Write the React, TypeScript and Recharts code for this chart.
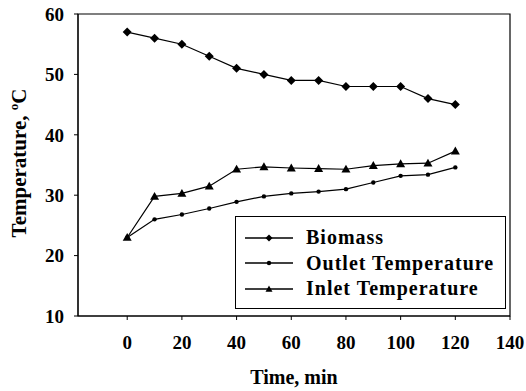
import React from "react";
import {
  LineChart,
  Line,
  XAxis,
  YAxis,
  ReferenceArea,
} from "recharts";

const times = [0, 10, 20, 30, 40, 50, 60, 70, 80, 90, 100, 110, 120];
const biomass = [57, 56, 55, 53, 51, 50, 49, 49, 48, 48, 48, 46, 45];
const outletTemp = [23, 26, 26.8, 27.8, 28.9, 29.8, 30.3, 30.6, 31, 32.1, 33.2, 33.4, 34.6];
const inletTemp = [23, 29.8, 30.3, 31.5, 34.3, 34.7, 34.5, 34.4, 34.3, 34.9, 35.2, 35.3, 37.3];
const xTicks = [0, 20, 40, 60, 80, 100, 120, 140];
const yTicks = [10, 20, 30, 40, 50, 60];

const data = times.map((t, i) => ({
  time: t,
  biomass: biomass[i],
  outlet: outletTemp[i],
  inlet: inletTemp[i],
}));

const FONT = "'Liberation Serif', 'DejaVu Serif', serif";

const Diamond = ({ cx, cy, s = 4.5 }: any) => (
  <polygon
    points={`${cx},${cy - s} ${cx + s},${cy} ${cx},${cy + s} ${cx - s},${cy}`}
    fill="#000"
  />
);
const Dot = ({ cx, cy }: any) => <circle cx={cx} cy={cy} r={2.2} fill="#000" />;
const Tri = ({ cx, cy, s = 4.5 }: any) => (
  <polygon
    points={`${cx},${cy - s} ${cx + s},${cy + s * 0.75} ${cx - s},${cy + s * 0.75}`}
    fill="#000"
  />
);

const series = [
  { key: "biomass", name: "Biomass", Shape: Diamond },
  { key: "outlet", name: "Outlet Temperature", Shape: Dot },
  { key: "inlet", name: "Inlet Temperature", Shape: Tri },
];

const LegendBox = () => (
  <div
    style={{
      position: "absolute",
      left: 235,
      top: 216,
      border: "1.5px solid #000",
      background: "#fff",
      width: 271,
      height: 93,
      boxSizing: "border-box",
      padding: "8px 0 0 9px",
      fontFamily: FONT,
      fontWeight: "bold",
      fontSize: 20,
      letterSpacing: 1,
    }}
  >
    {series.map((s) => (
      <div key={s.key} style={{ display: "flex", alignItems: "center", height: 25.5 }}>
        <svg width={48} height={12} style={{ marginRight: 13, flexShrink: 0 }}>
          <line x1={0} y1={6} x2={48} y2={6} stroke="#000" strokeWidth={1.3} />
          <s.Shape cx={24} cy={6} s={3.5} />
        </svg>
        <span style={{ whiteSpace: "nowrap" }}>{s.name}</span>
      </div>
    ))}
  </div>
);

const YLabel = () => (
  <text
    transform="translate(26, 163) rotate(-90)"
    textAnchor="middle"
    fontFamily={FONT}
    fontWeight="bold"
    fontSize={21}
    fill="#000"
  >
    Temperature,{" "}
    <tspan fontSize={13} dy={-8}>o</tspan>
    <tspan dy={8}>C</tspan>
  </text>
);

export default function App() {
  return (
    <div style={{ position: "absolute", left: 0, top: 0, background: "#fff" }}>
      <LineChart
        width={526}
        height={391}
        data={data}
        margin={{ top: 14, right: 16, left: 0, bottom: 45 }}
      >
        <XAxis
          dataKey="time"
          type="number"
          domain={[-18, 140]}
          ticks={xTicks}
          allowDataOverflow
          stroke="#000"
          tickLine={{ stroke: "#000" }}
          tickSize={4}
          tick={{ fill: "#000", fontFamily: FONT, fontWeight: "bold", fontSize: 19 }}
          tickMargin={16}
          label={{
            value: "Time, min",
            position: "insideBottom",
            offset: -38,
            fill: "#000",
            fontFamily: FONT,
            fontWeight: "bold",
            fontSize: 20,
          }}
        />
        <YAxis
          type="number"
          domain={[10, 60]}
          ticks={yTicks}
          width={78}
          stroke="#000"
          tickSize={4}
          tickLine={{ stroke: "#000" }}
          tick={{ fill: "#000", fontFamily: FONT, fontWeight: "bold", fontSize: 19 }}
          tickMargin={10}
          label={<YLabel />}
        />
        <ReferenceArea
          x1={-18}
          x2={140}
          y1={10}
          y2={60}
          fill="none"
          stroke="#000"
          strokeWidth={1.2}
          ifOverflow="extendDomain"
        />
        {series.map((s) => (
          <Line
            key={s.key}
            dataKey={s.key}
            name={s.name}
            type="linear"
            stroke="#000"
            strokeWidth={1.2}
            dot={(p: any) => <s.Shape key={`${s.key}-${p.index}`} cx={p.cx} cy={p.cy} />}
            activeDot={false}
            isAnimationActive={false}
          />
        ))}
      </LineChart>
      <LegendBox />
    </div>
  );
}
